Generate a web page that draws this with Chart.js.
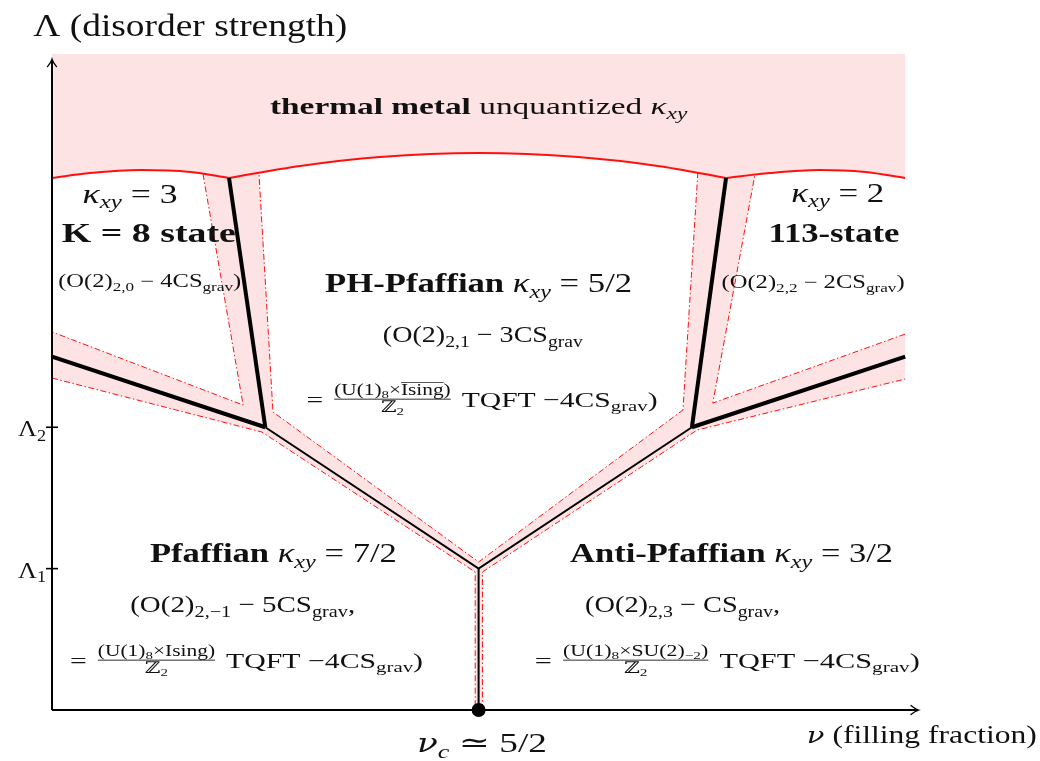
<!DOCTYPE html>
<html><head><meta charset="utf-8">
<script src="https://cdn.jsdelivr.net/npm/chart.js@4.4.0/dist/chart.umd.min.js"></script>
<style>html,body{margin:0;padding:0;background:#fff;}canvas{display:block;}</style>
</head><body>
<canvas id="c" width="1040" height="761" style="width:1040px;height:761px"></canvas>
<script>
// ---------- data (x: filling fraction relative to nu_c, y: disorder strength Lambda) ----------
const thermalArcLeft   = [[-1.0,3.763],[-0.911,3.798],[-0.791,3.819],[-0.676,3.805],[-0.585,3.763]];
const thermalArcMiddle = [[-0.585,3.763],[-0.418,3.848],[-0.231,3.911],[0.0,3.939],[0.233,3.911],[0.420,3.848],[0.580,3.763]];
const thermalArcRight  = [[0.580,3.763],[0.683,3.798],[0.798,3.819],[0.906,3.805],[1.0,3.763]];

const bandBorderLeftInner  = [[-0.646,3.791],[-0.552,2.157],[-1.0,2.674]];
const bandBorderLeftLower  = [[-1.0,2.348],[-0.508,1.966],[-0.008,0.976],[-0.008,0]];
const bandBorderRightLower = [[0.009,0],[0.009,0.976],[0.512,1.980],[1.0,2.341]];
const bandBorderRightInner = [[1.0,2.659],[0.549,2.171],[0.648,3.791]];
const bandBorderCentral    = [[0.514,3.805],[0.479,2.122],[0.0,1.047],[-0.482,2.108],[-0.515,3.802]];

const boundaryLeftSteep  = [[-0.585,3.763],[-0.5,2.0]];
const boundaryLeftSlope  = [[-1.0,2.5],[-0.5,2.0]];
const boundaryRightSteep = [[0.580,3.763],[0.5,2.0]];
const boundaryRightSlope = [[1.0,2.5],[0.5,2.0]];
const boundaryV          = [[-0.5,2.0],[0.0,1.0],[0.5,2.0]];
const boundaryStem       = [[0.0,1.0],[0.0,0.0]];
const criticalPoint      = [[0.0,0.0]];

const yTickValues = [1, 2];
const yTickSubs   = ['1', '2'];
const xAxisEnd = 1.03;
const yAxisEnd = 4.6;

// ---------- helpers ----------
const pts = a => a.map(p => ({x:p[0], y:p[1]}));
const PINK = '#fde3e4';
const RED = '#ff1010';
const DASHDOT = [6,2.5,1.5,2.5];

const lineDS = (data, extra) => Object.assign({
  data: pts(data), showLine: true, pointRadius: 0, borderWidth: 1,
  borderColor: '#000', backgroundColor: 'transparent', fill: false, tension: 0
}, extra);

const bandPolygon = [].concat(bandBorderLeftInner, bandBorderLeftLower, bandBorderRightLower, bandBorderRightInner, bandBorderCentral);

const datasets = [
  lineDS(bandPolygon, {fill: 'shape', backgroundColor: PINK, borderWidth: 0, borderColor: 'transparent', order: 10}),
  lineDS(thermalArcLeft,   {fill: 'end', backgroundColor: PINK, borderColor: RED, borderWidth: 2, cubicInterpolationMode: 'monotone', order: 9}),
  lineDS(thermalArcMiddle, {fill: 'end', backgroundColor: PINK, borderColor: RED, borderWidth: 2, cubicInterpolationMode: 'monotone', order: 9}),
  lineDS(thermalArcRight,  {fill: 'end', backgroundColor: PINK, borderColor: RED, borderWidth: 2, cubicInterpolationMode: 'monotone', order: 9}),
  lineDS(bandBorderLeftInner,  {borderColor: RED, borderWidth: 1, borderDash: DASHDOT, order: 7}),
  lineDS(bandBorderLeftLower,  {borderColor: RED, borderWidth: 1, borderDash: DASHDOT, order: 7}),
  lineDS(bandBorderRightLower, {borderColor: RED, borderWidth: 1, borderDash: DASHDOT, order: 7}),
  lineDS(bandBorderRightInner, {borderColor: RED, borderWidth: 1, borderDash: DASHDOT, order: 7}),
  lineDS(bandBorderCentral,    {borderColor: RED, borderWidth: 1, borderDash: DASHDOT, order: 7}),
  lineDS(boundaryLeftSteep,  {borderWidth: 4, order: 3}),
  lineDS(boundaryLeftSlope,  {borderWidth: 4, order: 3}),
  lineDS(boundaryRightSteep, {borderWidth: 4, order: 3}),
  lineDS(boundaryRightSlope, {borderWidth: 4, order: 3}),
  lineDS(boundaryV,    {borderWidth: 2, order: 3}),
  lineDS(boundaryStem, {borderWidth: 2, order: 3}),
  {data: pts(criticalPoint), showLine: false, pointRadius: 7, pointBackgroundColor: '#000', pointBorderWidth: 0, clip: false, order: 1}
];

// ---------- text ----------
const SERIF = "'Liberation Serif','DejaVu Serif','Times New Roman',serif";
const GREEK = "'DejaVu Serif','Liberation Serif',serif";
function fontFor(k, size){
  if (k === 'g') return 'italic ' + size.toFixed(2) + 'px ' + GREEK;
  let s = '';
  if (k === 'i' || k === '_i') s += 'italic ';
  if (k === 'b') s += 'bold ';
  return s + size.toFixed(2) + 'px ' + SERIF;
}
const FR = 0.72;
function tokWidth(ctx, t, size){
  const k = t[0];
  if (k === 'frac'){ const fs = size*FR; return Math.max(runWidth(ctx,t[1],fs), runWidth(ctx,t[2],fs)) + size*0.24; }
  const sz = k[0] === '_' ? size*0.7 : (k === 'g' ? size*0.92 : size);
  ctx.font = fontFor(k === 'ov' ? 'r' : k, sz);
  return ctx.measureText(t[1]).width;
}
function runWidth(ctx, toks, size){ return toks.reduce((a,t) => a + tokWidth(ctx,t,size), 0); }
function drawRun(ctx, toks, x, y, size){
  for (const t of toks){
    const k = t[0];
    const w = tokWidth(ctx, t, size);
    if (k === 'frac'){
      const fs = size*FR;
      const wn = runWidth(ctx,t[1],fs), wd = runWidth(ctx,t[2],fs);
      const inner = w - size*0.24, x0 = x + size*0.12;
      drawRun(ctx, t[1], x0 + (inner-wn)/2, y - size*0.56, fs);
      drawRun(ctx, t[2], x0 + (inner-wd)/2, y + size*0.24, fs);
      ctx.fillRect(x0, y - size*0.36 - 0.4, inner, Math.max(0.8, size*0.04));
    } else {
      const sub = k[0] === '_';
      const sz = sub ? size*0.7 : (k === 'g' ? size*0.92 : size);
      ctx.font = fontFor(k === 'ov' ? 'r' : k, sz);
      ctx.fillText(t[1], x, sub ? y + size*0.2 : y);
      if (k === 'ov') ctx.fillRect(x, y - size*0.8, w, Math.max(0.7, size*0.045));
    }
    x += w;
  }
}
function drawLabel(ctx, lab, px, py){
  const W = runWidth(ctx, lab.t, lab.size);
  const sx = lab.w ? Math.min(1.45, Math.max(0.75, lab.w / W)) : 1;
  ctx.save();
  ctx.translate(px - W*sx/2, py);
  ctx.scale(sx, 1);
  drawRun(ctx, lab.t, 0, 0, lab.size);
  ctx.restore();
}
const kxy = [['i','κ'],['_i','xy']];
const fracPf  = ['frac', [['r','(U(1)'],['_r','8'],['r','×Ising)']], [['r','ℤ'],['_r','2']]];
const fracPH  = ['frac', [['r','(U(1)'],['_r','8'],['r','×'],['ov','Ising'],['r',')']], [['r','ℤ'],['_r','2']]];
const fracAPf = ['frac', [['r','(U(1)'],['_r','8'],['r','×SU(2)'],['_r','−2'],['r',')']], [['r','ℤ'],['_r','2']]];

const labels = [
  {x:-0.676, y:4.767, size:31, w:314, t:[['r','Λ (disorder strength)']]},
  {x:0.0,    y:4.216, size:23, w:423, t:[['b','thermal metal'],['r',' unquantized ']].concat(kxy)},
  {x:-0.817, y:3.586, size:27, w:95,  t:kxy.concat([['r',' = 3']])},
  {x:-0.773, y:3.310, size:28, w:174, t:[['b','K = 8 state']]},
  {x:-0.771, y:2.992, size:18, w:183, t:[['r','(O(2)'],['_r','2,0'],['r',' − 4CS'],['_r','grav'],['r',')']]},
  {x:0.842,  y:3.593, size:27, w:93,  t:kxy.concat([['r',' = 2']])},
  {x:0.833,  y:3.310, size:28, w:131, t:[['b','113-state']]},
  {x:0.784,  y:2.985, size:18, w:183, t:[['r','(O(2)'],['_r','2,2'],['r',' − 2CS'],['_r','grav'],['r',')']]},
  {x:0.0,    y:2.957, size:28, w:307, t:[['b','PH-Pfaffian ']].concat(kxy, [['r',' = 5/2']])},
  {x:0.010,  y:2.603, size:23, w:200, t:[['r','(O(2)'],['_r','2,1'],['r',' − 3CS'],['_r','grav']]},
  {x:0.008,  y:2.143, size:22, w:351, t:[['r','= '], fracPH, ['r',' TQFT −4CS'],['_r','grav'],['r',')']]},
  {x:-0.481, y:1.047, size:28, w:247, t:[['b','Pfaffian ']].concat(kxy, [['r',' = 7/2']])},
  {x:-0.553, y:0.693, size:23, w:225, t:[['r','(O(2)'],['_r','2,−1'],['r',' − 5CS'],['_r','grav'],['r',',']]},
  {x:-0.544, y:0.297, size:22, w:353, t:[['r','= '], fracPf, ['r',' TQFT −4CS'],['_r','grav'],['r',')']]},
  {x:0.593,  y:1.047, size:28, w:323, t:[['b','Anti-Pfaffian ']].concat(kxy, [['r',' = 3/2']])},
  {x:0.478,  y:0.693, size:23, w:195, t:[['r','(O(2)'],['_r','2,3'],['r',' − CS'],['_r','grav'],['r',',']]},
  {x:0.583,  y:0.297, size:22, w:385, t:[['r','= '], fracAPf, ['r',' TQFT −4CS'],['_r','grav'],['r',')']]},
  {x:1.039,  y:-0.233, size:25, w:230, t:[['g','ν'],['r',' (filling fraction)']]},
  {x:0.008,  y:-0.297, size:28, w:130, t:[['g','ν'],['_i','c'],['r',' ≃ 5/2']]}
];

const overlay = {
  id: 'overlay',
  afterDraw(chart){
    const ctx = chart.ctx, xs = chart.scales.x, ys = chart.scales.y;
    const x0 = xs.getPixelForValue(-1), y0 = ys.getPixelForValue(0);
    const xe = xs.getPixelForValue(xAxisEnd), ye = ys.getPixelForValue(yAxisEnd);
    ctx.save();
    ctx.strokeStyle = '#000'; ctx.fillStyle = '#111';
    ctx.lineWidth = 2; ctx.lineCap = 'butt';
    ctx.beginPath(); ctx.moveTo(x0, y0); ctx.lineTo(x0, ye); ctx.stroke();
    ctx.beginPath(); ctx.moveTo(x0, y0); ctx.lineTo(xe, y0); ctx.stroke();
    ctx.lineWidth = 1.3; ctx.lineCap = 'round';
    ctx.beginPath(); ctx.moveTo(x0-4.5, ye+7); ctx.quadraticCurveTo(x0-1, ye+3, x0, ye-0.5); ctx.quadraticCurveTo(x0+1, ye+3, x0+4.5, ye+7); ctx.stroke();
    ctx.beginPath(); ctx.moveTo(xe-7, y0-4.5); ctx.quadraticCurveTo(xe-3, y0-1, xe+0.5, y0); ctx.quadraticCurveTo(xe-3, y0+1, xe-7, y0+4.5); ctx.stroke();
    // y ticks
    ctx.lineWidth = 1.6; ctx.lineCap = 'butt';
    yTickValues.forEach((v, i) => {
      const py = ys.getPixelForValue(v);
      ctx.beginPath(); ctx.moveTo(x0-6, py); ctx.lineTo(x0+6, py); ctx.stroke();
      drawLabel(ctx, {size:24, w:28, t:[['r','Λ'],['_r', yTickSubs[i]]]}, x0-20, py+9);
    });
    ctx.textBaseline = 'alphabetic'; ctx.textAlign = 'left';
    labels.forEach(l => drawLabel(ctx, l, xs.getPixelForValue(l.x), ys.getPixelForValue(l.y)));
    ctx.restore();
  }
};

new Chart(document.getElementById('c'), {
  type: 'scatter',
  data: { datasets },
  options: {
    responsive: false, animation: false, devicePixelRatio: 1, events: [],
    layout: { padding: { left: 52, right: 122, top: 54, bottom: 51 } },
    plugins: { legend: { display: false }, tooltip: { enabled: false } },
    scales: {
      x: { type: 'linear', min: -1, max: xAxisEnd, display: false },
      y: { type: 'linear', min: 0, max: 4.64, display: false }
    }
  },
  plugins: [overlay]
});
</script>
</body></html>
